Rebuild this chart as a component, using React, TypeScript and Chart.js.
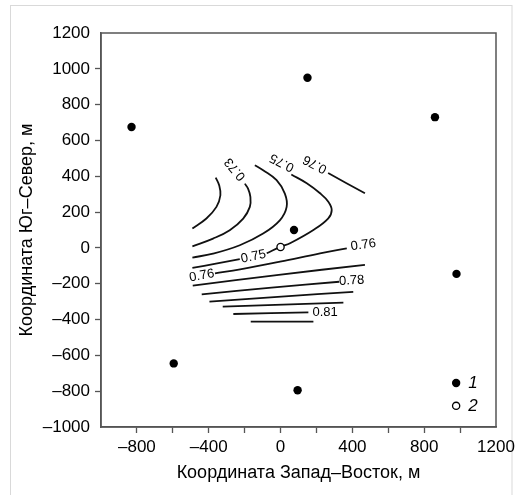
import { useEffect, useRef } from "react";
import { Chart, registerables } from "chart.js";

Chart.register(...registerables);

// Wells (1) and central point (2)
const wellsX = [-830, 150, 860, 980, -595, 95, 75];
const wellsY = [675, 950, 730, -145, -645, -795, 100];
const centerX = [0];
const centerY = [5];

// Contour lines (x, y pairs in metres)
const c072 = [[-491, 108], [-413, 164], [-357, 229], [-335, 294], [-342, 350], [-361, 393]];
const c073 = [[-491, 9], [-376, 52], [-283, 99], [-208, 164], [-171, 229], [-168, 285], [-181, 331], [-199, 359]];
const c074 = [[-491, -54], [-376, -32], [-227, 15], [-97, 80], [-4, 154], [34, 229], [24, 303], [-22, 378], [-97, 434], [-143, 462]];
const c075a = [[-491, -112], [-360, -88], [-227, -63]];
const c075b = [[-77, -30], [3, 7], [53, 26], [183, 100], [266, 165], [285, 212], [266, 258], [220, 305], [146, 361], [60, 410]];
const c076a = [[-365, -142], [-225, -120], [-3, -77], [220, -30], [369, -2]];
const c076b = [[265, 418], [470, 305]];
const c077 = [[-489, -211], [-10, -150], [470, -95]];
const c078 = [[-439, -259], [-50, -222], [327, -189]];
const c079 = [[-396, -300], [5, -272], [405, -245]];
const c080 = [[-322, -328], [14, -317], [350, -306]];
const c081 = [[-263, -369], [155, -360]];
const c082 = [[-166, -412], [183, -412]];
const contours = [c072, c073, c074, c075a, c075b, c076a, c076b, c077, c078, c079, c080, c081, c082];

// Contour labels
const labelText = ["0.73", "0.75", "0.76", "0.75", "0.76", "0.76", "0.78", "0.81"];
const labelX = [-253, 8, 192, -151, -439, 461, 396, 248];
const labelY = [440, 477, 468, -49, -155, 16, -183, -360];
const labelAngleDeg = [-130, -153, -152, -12, -10, -8, -3, 0];

// Legend
const legendText = ["1", "2"];
const legendX = 978;
const legendY = [-754, -882];

const xMin = -1000;
const xMax = 1200;
const yMin = -1000;
const yMax = 1200;
const tickStep = 200;

const dash = (v: number) => (v < 0 ? "\u2013" + Math.abs(v) : String(v));
const FONT = "'Liberation Sans', Arial, Helvetica, sans-serif";
const AXIS = "#555";
const TEXT = "#000";

const framePlugin = {
  id: "frame",
  beforeDraw(chart: any) {
    const ctx = chart.ctx;
    ctx.save();
    ctx.fillStyle = "#fff";
    ctx.fillRect(0, 0, chart.width, chart.height);
    ctx.strokeStyle = "#d9d9d9";
    ctx.lineWidth = 1;
    ctx.strokeRect(10.5, 5.5, 501.5, 520);
    ctx.restore();
  },
  afterDraw(chart: any) {
    const { ctx, chartArea } = chart;
    ctx.save();
    ctx.strokeStyle = AXIS;
    ctx.lineWidth = 1.5;
    ctx.strokeRect(chartArea.left, chartArea.top, chartArea.right - chartArea.left, chartArea.bottom - chartArea.top);
    ctx.restore();
  },
};

const labelsPlugin = {
  id: "contourLabels",
  afterDatasetsDraw(chart: any) {
    const { ctx, scales } = chart;
    ctx.save();
    ctx.fillStyle = TEXT;
    ctx.font = `13px ${FONT}`;
    ctx.textAlign = "center";
    ctx.textBaseline = "middle";
    labelText.forEach((t, i) => {
      const px = scales.x.getPixelForValue(labelX[i]);
      const py = scales.y.getPixelForValue(labelY[i]);
      ctx.save();
      ctx.translate(px, py);
      ctx.rotate((labelAngleDeg[i] * Math.PI) / 180);
      ctx.fillText(t, 0, 0);
      ctx.restore();
    });
    // legend
    const lx = scales.x.getPixelForValue(legendX);
    legendText.forEach((t, i) => {
      const ly = scales.y.getPixelForValue(legendY[i]);
      ctx.beginPath();
      ctx.arc(lx, ly, i === 0 ? 4.2 : 3.6, 0, Math.PI * 2);
      if (i === 0) {
        ctx.fillStyle = "#000";
        ctx.fill();
      } else {
        ctx.fillStyle = "#fff";
        ctx.fill();
        ctx.lineWidth = 1.3;
        ctx.strokeStyle = "#000";
        ctx.stroke();
      }
      ctx.fillStyle = TEXT;
      ctx.font = `italic 17px ${FONT}`;
      ctx.textAlign = "left";
      ctx.textBaseline = "middle";
      ctx.fillText(t, lx + 12, ly);
    });
    ctx.restore();
  },
};

export default function App() {
  const ref = useRef<HTMLCanvasElement | null>(null);

  useEffect(() => {
    if (!ref.current) return;
    const lineSets = contours.map((c) => ({
      type: "scatter" as const,
      data: c.map(([x, y]) => ({ x, y })),
      showLine: true,
      borderColor: "#111",
      borderWidth: 1.8,
      pointRadius: 0,
      tension: 0.4,
      fill: false,
    }));
    const chart = new Chart(ref.current, {
      type: "scatter",
      data: {
        datasets: [
          {
            label: "2",
            data: centerX.map((x, i) => ({ x, y: centerY[i] })),
            pointRadius: 3.6,
            pointBackgroundColor: "#fff",
            pointBorderColor: "#000",
            pointBorderWidth: 1.3,
          },
          {
            label: "1",
            data: wellsX.map((x, i) => ({ x, y: wellsY[i] })),
            pointRadius: 4.2,
            pointBackgroundColor: "#000",
            pointBorderColor: "#000",
            pointBorderWidth: 0,
          },
          ...lineSets,
        ] as any,
      },
      options: {
        animation: false,
        responsive: false,
        events: [],
        layout: { padding: { top: 33, right: 26, left: 0, bottom: 0 } },
        plugins: { legend: { display: false }, tooltip: { enabled: false } },
        scales: {
          x: {
            type: "linear",
            min: xMin,
            max: xMax,
            afterFit: (s: any) => {
              s.height = 68;
            },
            ticks: {
              stepSize: tickStep,
              autoSkip: false,
              maxRotation: 0,
              padding: 4,
              color: TEXT,
              font: { family: FONT, size: 17 },
              callback: (v: any) => (Number(v) % 400 === 0 ? dash(Number(v)) : ""),
            },
            grid: {
              drawOnChartArea: false,
              drawTicks: true,
              tickLength: 6,
              tickWidth: 1.3,
              tickColor: (c: any) =>
                c.tick && (c.tick.value === xMin || c.tick.value === xMax) ? "rgba(0,0,0,0)" : AXIS,
            },
            border: { display: true, color: AXIS, width: 1.5 },
            title: {
              display: true,
              text: "Координата Запад\u2013Восток, м",
              color: TEXT,
              font: { family: FONT, size: 18 },
              padding: { top: 0, bottom: 11 },
            },
          },
          y: {
            type: "linear",
            min: yMin,
            max: yMax,
            afterFit: (s: any) => {
              s.width = 101;
            },
            ticks: {
              stepSize: tickStep,
              autoSkip: false,
              padding: 5,
              color: TEXT,
              font: { family: FONT, size: 17 },
              callback: (v: any) => dash(Number(v)),
            },
            grid: {
              drawOnChartArea: false,
              drawTicks: true,
              tickLength: 6,
              tickWidth: 1.3,
              tickColor: (c: any) =>
                c.tick && (c.tick.value === yMin || c.tick.value === yMax) ? "rgba(0,0,0,0)" : AXIS,
            },
            border: { display: true, color: AXIS, width: 1.5 },
            title: {
              display: true,
              text: "Координата Юг\u2013Север, м",
              color: TEXT,
              font: { family: FONT, size: 18 },
              padding: { top: 16, bottom: 0 },
            },
          },
        },
      },
      plugins: [framePlugin, labelsPlugin],
    });
    return () => chart.destroy();
  }, []);

  return (
    <div style={{ position: "absolute", left: 0, top: 0, width: 522, height: 495 }}>
      <canvas ref={ref} width={522} height={495} style={{ display: "block", width: 522, height: 495 }} />
    </div>
  );
}
